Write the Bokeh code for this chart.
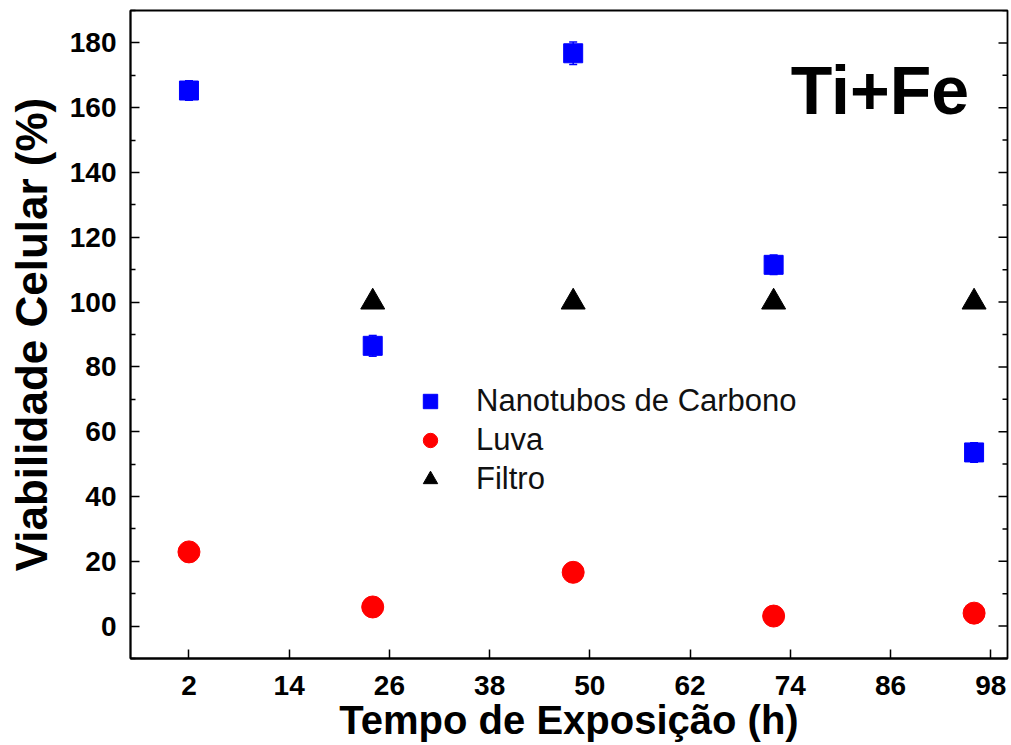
from bokeh.plotting import figure
from bokeh.models import (FixedTicker, Range1d, Label, Legend, LegendItem,
                          Whisker, ColumnDataSource, TeeHead)
from bokeh.embed import file_html
from bokeh.resources import INLINE

# ---- data ----
x_nano = [2, 24, 48, 72, 96]
y_nano = [165.3, 86.5, 176.8, 111.5, 53.6]
e_nano = [3.0, 3.2, 3.5, 3.0, 3.0]

x_luva = [2, 24, 48, 72, 96]
y_luva = [22.9, 5.9, 16.6, 3.1, 4.0]
e_luva = [1.5, 1.5, 2.0, 1.8, 1.5]

x_filtro = [24, 48, 72, 96]
y_filtro = [100, 100, 100, 100]

x_ticks = [2, 14, 26, 38, 50, 62, 74, 86, 98]
y_ticks = [0, 20, 40, 60, 80, 100, 120, 140, 160, 180]
y_minor = [-10, 10, 30, 50, 70, 90, 110, 130, 150, 170, 190]

X_START, X_END = -5, 100
Y_START, Y_END = -10, 190

FONT = "Liberation Sans"

p = figure(width=1011, height=745, x_range=Range1d(X_START, X_END), y_range=Range1d(Y_START, Y_END),
           output_backend="svg", toolbar_location=None,
           min_border_left=130, min_border_right=4, min_border_top=10, min_border_bottom=87)
p.xgrid.visible = False
p.ygrid.visible = False
p.outline_line_color = "black"
p.outline_line_width = 1.8
p.background_fill_color = "white"
p.border_fill_color = "white"

# bottom axis
xa = p.xaxis[0]
xa.ticker = FixedTicker(ticks=x_ticks)
xa.major_tick_in = 9
xa.major_tick_out = 0
xa.minor_tick_line_color = None
xa.axis_line_width = 1.8
xa.major_tick_line_width = 1.5
xa.major_label_text_font = FONT
xa.major_label_text_font_style = "bold"
xa.major_label_text_font_size = "28px"
xa.major_label_text_color = "black"
xa.major_label_standoff = 17
xa.axis_label = "Tempo de Exposição (h)"
xa.axis_label_text_font = FONT
xa.axis_label_text_font_style = "bold"
xa.axis_label_text_font_size = "40px"
xa.axis_label_text_color = "black"
xa.axis_label_standoff = 0

# left axis
ya = p.yaxis[0]
ya.ticker = FixedTicker(ticks=y_ticks, minor_ticks=y_minor)
ya.major_tick_in = 9
ya.major_tick_out = 0
ya.minor_tick_in = 5
ya.minor_tick_out = 0
ya.axis_line_width = 1.8
ya.major_tick_line_width = 1.5
ya.minor_tick_line_width = 1.5
ya.major_label_text_font = FONT
ya.major_label_text_font_style = "bold"
ya.major_label_text_font_size = "28px"
ya.major_label_text_color = "black"
ya.major_label_standoff = 14
ya.axis_label = "Viabilidade Celular (%)"
ya.axis_label_text_font = FONT
ya.axis_label_text_font_style = "bold"
ya.axis_label_text_font_size = "44px"
ya.axis_label_text_color = "black"
ya.axis_label_standoff = 11

# right-side mirror ticks (dash markers centred on the frame edge, clipped to the frame)
p.scatter(x=[X_END] * len(y_ticks), y=y_ticks, marker="dash", size=18,
          line_color="black", line_width=1.5)
p.scatter(x=[X_END] * len(y_minor), y=y_minor, marker="dash", size=10,
          line_color="black", line_width=1.5)

# series
src_n = ColumnDataSource(dict(x=x_nano, y=y_nano,
                              lo=[a - b for a, b in zip(y_nano, e_nano)],
                              hi=[a + b for a, b in zip(y_nano, e_nano)]))
src_l = ColumnDataSource(dict(x=x_luva, y=y_luva,
                              lo=[a - b for a, b in zip(y_luva, e_luva)],
                              hi=[a + b for a, b in zip(y_luva, e_luva)]))
src_f = ColumnDataSource(dict(x=x_filtro, y=y_filtro))

for src, col in ((src_n, "#0000FF"), (src_l, "#FF0000")):
    w = Whisker(source=src, base="x", upper="hi", lower="lo", line_color=col, line_width=1.5,
                upper_head=TeeHead(size=8, line_color=col, line_width=1.5),
                lower_head=TeeHead(size=8, line_color=col, line_width=1.5))
    p.add_layout(w)

r_n = p.scatter("x", "y", source=src_n, marker="square", size=19,
                fill_color="#0000FF", line_color="#0000FF")
r_l = p.scatter("x", "y", source=src_l, marker="circle", size=22,
                fill_color="#FF0000", line_color="#FF0000")
r_f = p.scatter("x", "y", source=src_f, marker="triangle", size=24,
                fill_color="black", line_color="black")

legend = Legend(items=[LegendItem(label="Nanotubos de Carbono", renderers=[r_n]),
                       LegendItem(label="Luva", renderers=[r_l]),
                       LegendItem(label="Filtro", renderers=[r_f])],
                location=(282, 161), glyph_width=36, glyph_height=36, spacing=3,
                label_standoff=28, padding=0, margin=0,
                border_line_color=None, background_fill_alpha=0,
                label_text_font=FONT, label_text_font_size="31px", label_text_color="#111111")
p.add_layout(legend)

p.add_layout(Label(x=95.4, y=165.4, text="Ti+Fe", text_align="right", text_baseline="alphabetic",
                   text_font=FONT, text_font_style="bold", text_font_size="68px",
                   text_color="black"))

open("out.html", "w").write(file_html(p, INLINE))
